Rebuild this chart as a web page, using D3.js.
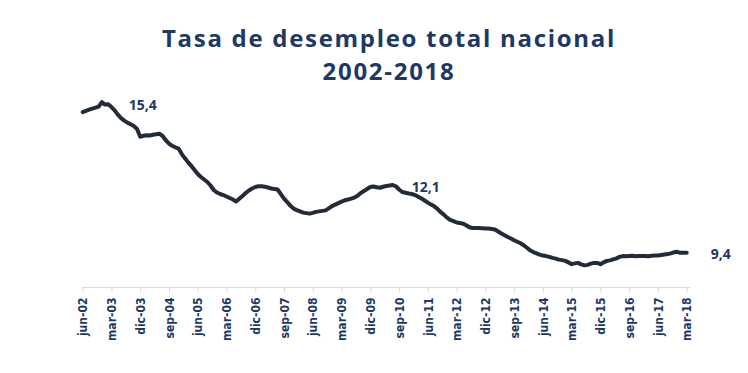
<!DOCTYPE html>
<html>
<head>
<meta charset="utf-8">
<script src="https://cdn.jsdelivr.net/npm/d3@7"></script>
<style>
  body { margin: 0; background: #fff; }
  svg { display: block; }
</style>
</head>
<body>
<svg width="748" height="373"></svg>
<script>
// tasa de desempleo, meses desde jun-02 hasta mar-18
var y2002 = [15.00, 15.05, 15.10, 15.14, 15.18, 15.22, 15.40];
var y2003 = [15.30, 15.31, 15.20, 15.07, 14.90, 14.76, 14.66, 14.58, 14.52, 14.45, 14.33, 14.02];
var y2004 = [14.06, 14.08, 14.07, 14.10, 14.12, 14.14, 14.05, 13.88, 13.75, 13.66, 13.60, 13.55];
var y2005 = [13.33, 13.16, 13.00, 12.86, 12.70, 12.54, 12.42, 12.32, 12.22, 12.08, 11.90, 11.80];
var y2006 = [11.74, 11.70, 11.64, 11.58, 11.52, 11.44, 11.55, 11.66, 11.78, 11.88, 11.96, 12.02];
var y2007 = [12.05, 12.05, 12.03, 12.00, 11.96, 11.94, 11.92, 11.74, 11.56, 11.42, 11.27, 11.16];
var y2008 = [11.10, 11.05, 11.00, 10.98, 10.96, 10.99, 11.03, 11.05, 11.07, 11.09, 11.17, 11.26];
var y2009 = [11.32, 11.38, 11.44, 11.49, 11.52, 11.56, 11.60, 11.67, 11.78, 11.86, 11.94, 12.02];
var y2010 = [12.04, 12.01, 11.99, 12.03, 12.06, 12.08, 12.10, 12.05, 11.92, 11.82, 11.79, 11.76];
var y2011 = [11.74, 11.70, 11.63, 11.56, 11.48, 11.40, 11.32, 11.25, 11.15, 11.02, 10.92, 10.80];
var y2012 = [10.71, 10.66, 10.61, 10.59, 10.56, 10.50, 10.42, 10.39, 10.39, 10.39, 10.38, 10.37];
var y2013 = [10.37, 10.35, 10.33, 10.25, 10.17, 10.10, 10.03, 9.97, 9.90, 9.84, 9.78, 9.70];
var y2014 = [9.60, 9.50, 9.43, 9.38, 9.33, 9.29, 9.27, 9.24, 9.20, 9.17, 9.13, 9.11];
var y2015 = [9.08, 9.02, 8.95, 8.98, 9.00, 8.94, 8.90, 8.92, 8.97, 9.00, 9.00, 8.95];
var y2016 = [9.02, 9.08, 9.10, 9.14, 9.18, 9.24, 9.27, 9.26, 9.27, 9.28, 9.26, 9.27];
var y2017 = [9.27, 9.27, 9.26, 9.28, 9.29, 9.29, 9.31, 9.33, 9.35, 9.38, 9.42, 9.44];
var y2018 = [9.40, 9.40, 9.40];

var tickLabels = ["jun-02", "mar-03", "dic-03", "sep-04", "jun-05", "mar-06", "dic-06",
  "sep-07", "jun-08", "mar-09", "dic-09", "sep-10", "jun-11", "mar-12", "dic-12",
  "sep-13", "jun-14", "mar-15", "dic-15", "sep-16", "jun-17", "mar-18"];

// etiquetas: indice del mes y texto
var notes = [
  { i: 6, text: "15,4", dx: 27, dy: 8 },
  { i: 97, text: "12,1", dx: 19, dy: 7 },
  { i: 189, text: "9,4", dx: 24, dy: 6 }
];

var values = [].concat(y2002, y2003, y2004, y2005, y2006, y2007, y2008, y2009,
  y2010, y2011, y2012, y2013, y2014, y2015, y2016, y2017, y2018);

var navy = "#203864";
var svg = d3.select("svg");

var x = d3.scaleLinear().domain([0, values.length - 1]).range([82.7, 686.7]);
var y = d3.scaleLinear().domain([8, 16]).range([288, 87]);

// titulo
svg.append("text")
  .attr("x", 389).attr("y", 47)
  .attr("text-anchor", "middle")
  .attr("font-family", "'Open Sans', sans-serif")
  .attr("font-weight", "bold")
  .attr("font-size", "24px")
  .attr("letter-spacing", "1.7px")
  .attr("fill", navy)
  .text("Tasa de desempleo total nacional");

svg.append("text")
  .attr("x", 389).attr("y", 80)
  .attr("text-anchor", "middle")
  .attr("font-family", "'Open Sans', sans-serif")
  .attr("font-weight", "bold")
  .attr("font-size", "24px")
  .attr("letter-spacing", "1.7px")
  .attr("fill", navy)
  .text("2002-2018");

// eje x
var tickIdx = tickLabels.map(function(d, k) { return k * 9; });
var xAxis = d3.axisBottom(x)
  .tickValues(tickIdx)
  .tickSize(5)
  .tickFormat(function(d) { return tickLabels[d / 9]; });

var gx = svg.append("g")
  .attr("transform", "translate(0,287.5)")
  .call(xAxis);

gx.select(".domain").remove();
gx.append("line")
  .attr("x1", 82).attr("x2", 690)
  .attr("stroke", "#d9d9d9").attr("stroke-width", 1);
gx.selectAll(".tick line").attr("stroke", "#d9d9d9");
gx.selectAll(".tick text")
  .attr("transform", "rotate(-90)")
  .attr("text-anchor", "end")
  .attr("x", -10).attr("y", 0).attr("dy", "0.35em")
  .attr("font-family", "'DejaVu Sans Condensed', 'Liberation Sans Narrow', sans-serif")
  .attr("font-weight", "bold")
  .attr("font-size", "12px")
  .attr("fill", navy);

// linea
var line = d3.line()
  .x(function(d, i) { return x(i); })
  .y(function(d) { return y(d); });

svg.append("path")
  .datum(values)
  .attr("d", line)
  .attr("fill", "none")
  .attr("stroke", "#232b38")
  .attr("stroke-width", 4)
  .attr("stroke-linejoin", "round")
  .attr("stroke-linecap", "round");

// etiquetas de datos
svg.selectAll(".note")
  .data(notes)
  .enter()
  .append("text")
  .attr("class", "note")
  .attr("x", function(d) { return x(d.i) + d.dx; })
  .attr("y", function(d) { return y(values[d.i]) + d.dy; })
  .attr("font-family", "'Open Sans', sans-serif")
  .attr("font-weight", "bold")
  .attr("font-size", "14px")
  .attr("fill", navy)
  .text(function(d) { return d.text; });
</script>
</body>
</html>
